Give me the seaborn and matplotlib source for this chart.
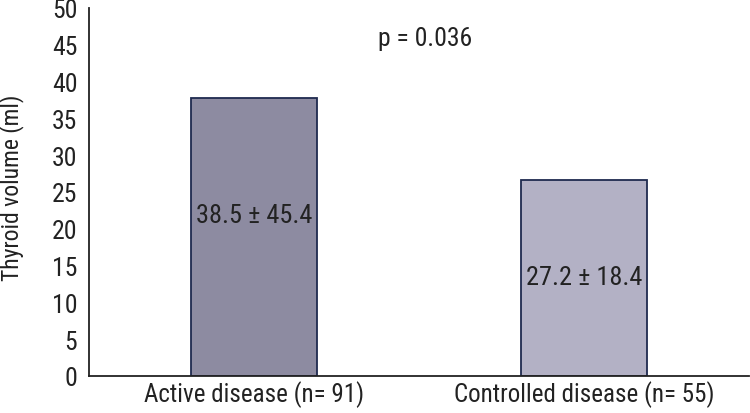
import matplotlib
matplotlib.use("Agg")
import matplotlib.pyplot as plt
import seaborn as sns
import pandas as pd

categories = ["Active disease (n= 91)", "Controlled disease (n= 55)"]
bar_values = [37.8, 26.6]
bar_labels = ["38.5 \u00b1 45.4", "27.2 \u00b1 18.4"]
label_y = [21.9, 13.5]
bar_colors = ["#8a87a5", "#b0aec8"]
y_ticks = [0, 5, 10, 15, 20, 25, 30, 35, 40, 45, 50]
p_text = "p = 0.036"
y_title = "Thyroid volume (ml)"

sns.set_theme(style="white")
plt.rcParams["font.family"] = ["Roboto Condensed", "DejaVu Sans"]

df = pd.DataFrame({"group": categories, "volume": bar_values})

fig = plt.figure(figsize=(7.5, 4.14), dpi=100)
ax = fig.add_axes([0.1187, 0.0894, 0.88, 0.8889])
sns.barplot(data=df, x="group", y="volume", hue="group", palette=bar_colors,
            width=0.38, edgecolor="#1f2a4f", linewidth=1.3, legend=False, ax=ax)

ax.set_xlim(-0.5, 1.5)
ax.set_ylim(0, 50)
ax.set_yticks(y_ticks)
ax.set_yticklabels([str(t) for t in y_ticks], fontsize=18.5, color="#222222")
ax.set_xticks([0, 1])
ax.set_xticklabels(categories, fontsize=18, color="#222222")
ax.tick_params(axis="x", which="major", length=0, pad=3)
ax.set_xticks([-0.5, 0.5, 1.5], minor=True)
ax.tick_params(axis="x", which="minor", length=6, width=1.2, direction="out", color="#222222")
ax.tick_params(axis="y", length=6, width=1.2, direction="out", color="#222222", pad=2.5)
ax.set_xlabel("")
ax.set_ylabel("")
fig.text(0.0155, 0.546, y_title, rotation=90, ha="center", va="center",
         fontsize=17, color="#222222")
for s in ["top", "right"]:
    ax.spines[s].set_visible(False)
for s in ["left", "bottom"]:
    ax.spines[s].set_color("#222222")
    ax.spines[s].set_linewidth(1.3)

for i, (t, yy) in enumerate(zip(bar_labels, label_y)):
    ax.text(i, yy, t, ha="center", va="center", fontsize=19, color="#222222")
ax.text(0.52, 45.9, p_text, ha="center", va="center", fontsize=18.5, color="#222222")

fig.savefig("out.png", dpi=100)
